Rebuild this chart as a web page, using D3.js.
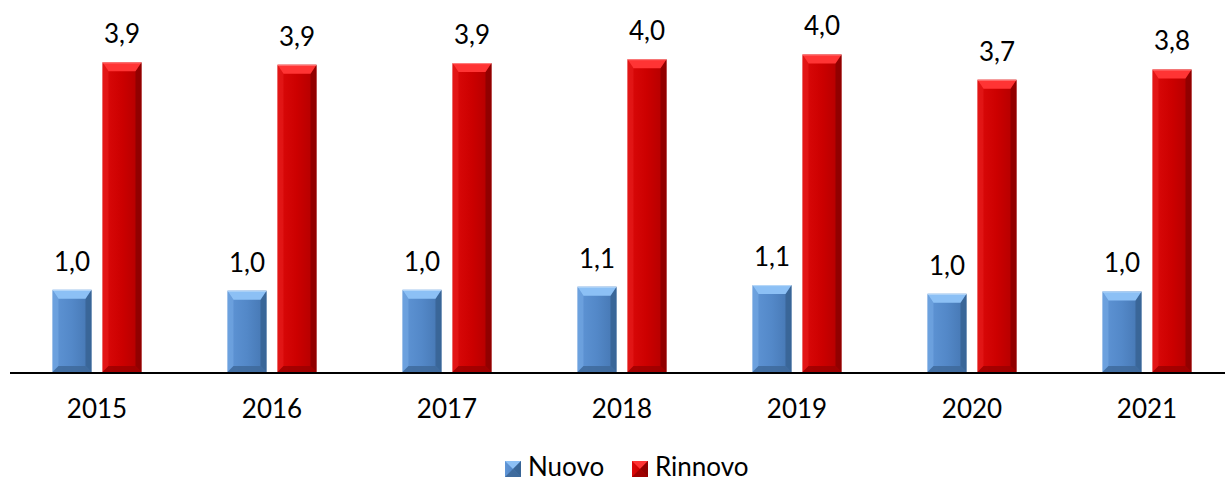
<!DOCTYPE html>
<html>
<head>
<meta charset="utf-8">
<script src="https://cdn.jsdelivr.net/npm/d3@7"></script>
<style>
  html, body { margin: 0; padding: 0; background: #fff; }
  svg { display: block; }
  text { font-family: Lato, "Open Sans", "Noto Sans", sans-serif; fill: #000; }
</style>
</head>
<body>
<svg id="chart" width="1225" height="481"></svg>
<script>
const years = ["2015", "2016", "2017", "2018", "2019", "2020", "2021"];
const seriesNames = ["Nuovo", "Rinnovo"];
const nuovo = [1.04, 1.03, 1.04, 1.08, 1.10, 0.99, 1.02];
const rinnovo = [3.92, 3.89, 3.91, 3.96, 4.02, 3.70, 3.83];

const W = 1225, H = 481;
const svg = d3.select("#chart");
const baseY = 372;

const x0 = d3.scaleBand().domain(years).range([9.5, 1234.5]).paddingInner(0).paddingOuter(0);
const x1 = d3.scaleBand().domain(seriesNames).range([-44.5, 44.5]).paddingInner(0.22).paddingOuter(0);
const y = d3.scaleLinear().domain([0, 4.5]).range([baseY, baseY - 4.5 * 79]);

const palettes = {
  Nuovo:   { body: ["#5f95d6", "#5388c8", "#4475b0"], top: "#8cc0f5", left: "#7aaee8", right: "#35608f", bottom: "#3d6899" },
  Rinnovo: { body: ["#dc0a0a", "#cc0000", "#b00000"], top: "#ff3434", left: "#ea2222", right: "#850000", bottom: "#9a0000" }
};

const defs = svg.append("defs");
seriesNames.forEach(s => {
  const g = defs.append("linearGradient").attr("id", "grad-" + s).attr("x1", "0").attr("x2", "1").attr("y1", "0").attr("y2", "0");
  g.append("stop").attr("offset", "0%").attr("stop-color", palettes[s].body[0]);
  g.append("stop").attr("offset", "50%").attr("stop-color", palettes[s].body[1]);
  g.append("stop").attr("offset", "100%").attr("stop-color", palettes[s].body[2]);
});

const data = [];
years.forEach((yr, i) => {
  data.push({ year: yr, series: "Nuovo", value: nuovo[i] });
  data.push({ year: yr, series: "Rinnovo", value: rinnovo[i] });
});

const pts = a => a.map(q => q.join(",")).join(" ");
const bars = svg.append("g").attr("class", "bars");
const bev = 6, topBev = 9;
data.forEach(d => {
  const bx = x0(d.year) + x0.bandwidth() / 2 + x1(d.series);
  const bw = x1.bandwidth();
  const by = y(d.value);
  const bh = y(0) - by;
  const p = palettes[d.series];
  const g = bars.append("g");
  g.append("rect").attr("x", bx).attr("y", by).attr("width", bw).attr("height", bh)
    .attr("fill", "url(#grad-" + d.series + ")");
  g.append("polygon").attr("points", pts([[bx, by], [bx + bev, by + topBev], [bx + bev, by + bh - bev], [bx, by + bh]]))
    .attr("fill", p.left).attr("opacity", 0.5);
  g.append("polygon").attr("points", pts([[bx + bw, by], [bx + bw - bev, by + topBev], [bx + bw - bev, by + bh - bev], [bx + bw, by + bh]]))
    .attr("fill", p.right).attr("opacity", 0.75);
  g.append("polygon").attr("points", pts([[bx, by + bh], [bx + bev, by + bh - bev], [bx + bw - bev, by + bh - bev], [bx + bw, by + bh]]))
    .attr("fill", p.bottom).attr("opacity", 0.8);
  g.append("polygon").attr("points", pts([[bx, by], [bx + bw, by], [bx + bw - bev, by + topBev], [bx + bev, by + topBev]]))
    .attr("fill", p.top);
  g.append("line").attr("x1", bx).attr("x2", bx + bw).attr("y1", by + 0.5).attr("y2", by + 0.5)
    .attr("stroke", "#ffffff").attr("stroke-opacity", 0.4);

  svg.append("text")
    .attr("x", bx + bw / 2)
    .attr("y", by - 19)
    .attr("text-anchor", "middle")
    .attr("font-size", 26)
    .text(d3.format(".1f")(d.value).replace(".", ","));
});

// x axis
const xAxis = d3.axisBottom(x0).tickSize(0).tickPadding(0);
const ax = svg.append("g").attr("transform", `translate(0,${baseY})`).call(xAxis);
ax.select(".domain").remove();
ax.selectAll("text")
  .attr("dy", null)
  .attr("y", 46)
  .attr("font-size", 26)
  .style("font-family", "Lato, 'Open Sans', sans-serif")
  .attr("fill", "#000");
svg.append("line").attr("x1", 10).attr("x2", W).attr("y1", baseY + 1).attr("y2", baseY + 1)
  .attr("stroke", "#000").attr("stroke-width", 2);

// legend
const legendItems = [
  { name: "Nuovo", x: 505 },
  { name: "Rinnovo", x: 632 }
];
const lg = svg.append("g");
legendItems.forEach(it => {
  const p = palettes[it.name];
  const sx = it.x, sy = 461, ss = 16;
  lg.append("rect").attr("x", sx).attr("y", sy).attr("width", ss).attr("height", ss).attr("fill", "url(#grad-" + it.name + ")");
  lg.append("polygon").attr("points", pts([[sx, sy], [sx + ss, sy], [sx + ss / 2, sy + ss / 2]])).attr("fill", p.top);
  lg.append("polygon").attr("points", pts([[sx + ss, sy], [sx + ss, sy + ss], [sx + ss / 2, sy + ss / 2]])).attr("fill", p.right).attr("opacity", 0.8);
  lg.append("polygon").attr("points", pts([[sx, sy + ss], [sx + ss, sy + ss], [sx + ss / 2, sy + ss / 2]])).attr("fill", p.bottom).attr("opacity", 0.9);
  lg.append("text").attr("x", sx + ss + 7).attr("y", 476).attr("font-size", 26).text(it.name);
});
</script>
</body>
</html>
